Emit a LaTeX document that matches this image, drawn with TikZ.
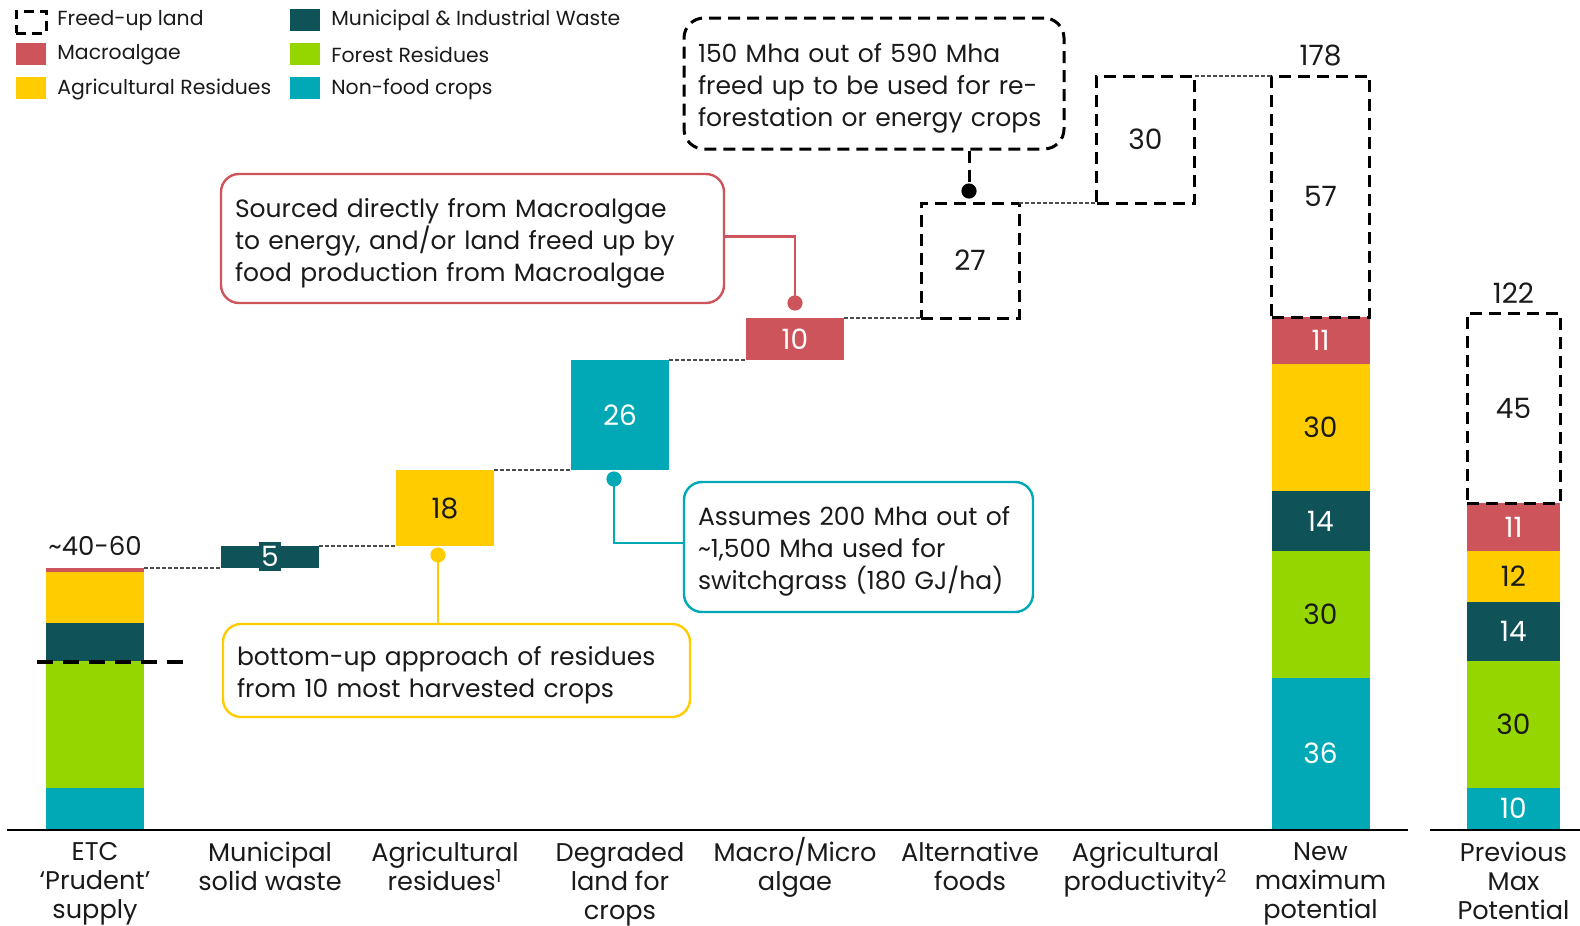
\documentclass[tikz,border=0pt]{standalone}
\usepackage{fontspec}
\setmainfont{Poppins}
\usetikzlibrary{calc,positioning}

\definecolor{algae}{RGB}{205,84,91}
\definecolor{agri}{RGB}{255,204,0}
\definecolor{waste}{RGB}{15,82,87}
\definecolor{forest}{RGB}{150,214,0}
\definecolor{crops}{RGB}{0,169,181}
\definecolor{ink}{RGB}{26,26,26}

\tikzset{
	seg/.style={inner sep=0pt, outer sep=0pt, minimum width=49pt, font=\fontsize{14}{16}\selectfont},
	segprev/.style={seg, minimum width=46.5pt},
	freed/.style={draw=black, line width=1.5pt, dash pattern=on 6pt off 3.5pt},
	link/.style={line width=0.6pt, color=black!70, dash pattern=on 2pt off 1pt},
	callout/.style={rounded corners=9pt, line width=1.2pt, align=left, inner xsep=7pt, inner ysep=0pt, text=ink, font=\fontsize{12.5}{16}\selectfont, execute at begin node={\rule{0pt}{14pt}}},
	pin/.style={line width=1.2pt},
	catlabel/.style={anchor=north, align=center, inner sep=0pt, text=ink, font=\fontsize{12.8}{14.5}\selectfont},
	total/.style={inner sep=0pt, text=ink, font=\fontsize{14}{16}\selectfont},
	legendtext/.style={anchor=west, inner sep=0pt, text=ink, font=\fontsize{10.2}{12}\selectfont},
	swatch/.style={inner sep=0pt, outer sep=0pt, minimum width=15pt, minimum height=11pt},
}

\begin{document}
\begin{tikzpicture}[x=0.5pt, y=-0.5pt]
		\useasboundingbox (0,0) rectangle (1580,926);
		
		%%%%% LEGEND %%%%%
		\node[swatch, draw=black, line width=1.5pt, dash pattern=on 5pt off 3pt] (swLand) at (31,22) {};
		\node[swatch, fill=algae] (swAlgae) at (31,54) {};
		\node[swatch, fill=agri] (swAgri) at (31,88) {};
		\node[swatch, fill=waste] (swWaste) at (305,20) {};
		\node[swatch, fill=forest] (swForest) at (305,54) {};
		\node[swatch, fill=crops] (swCrops) at (305,88) {};
		\node[legendtext] (kLand) at (57,21) {Freed-up land};
		\node[legendtext] (kAlgae) at (57,55) {Macroalgae};
		\node[legendtext] (kAgri) at (57,89) {Agricultural Residues};
		\node[legendtext] (kWaste) at (331,20) {Municipal \& Industrial Waste};
		\node[legendtext] (kForest) at (331,55) {Forest Residues};
		\node[legendtext] (kCrops) at (331,89) {Non-food crops};
		
		%%%%% ETC SUPPLY %%%%%
		\fill[crops] (46,788) rectangle (144,829);
		\fill[forest] (46,661) rectangle (144,788);
		\fill[waste] (46,623) rectangle (144,661);
		\fill[agri] (46,572) rectangle (144,623);
		\fill[algae] (46,568) rectangle (144,572);
		\coordinate (etcTop) at (144,568);
		\draw[line width=2pt, dash pattern=on 8pt off 5pt] (37,662) -- (187,662);
		\node[total, font=\fontsize{13}{16}\selectfont] (etcTotal) at (95,546) {\textasciitilde 40-60};
		
		%%%%% WATERFALL %%%%%
		\node[seg, fill=waste, minimum height=11pt] (mswBar) at (270,557) {};
		\node[seg, fill=waste, text=white, minimum width=11pt, minimum height=14.5pt] (mswVal) at (270,556.5) {5};
		\node[seg, fill=agri, text=ink, minimum height=38pt] (agriBar) at (445,508) {18};
		\node[seg, fill=crops, text=white, minimum height=55pt] (cropsBar) at (620,415) {26};
		\node[seg, fill=algae, text=white, minimum height=21pt] (algaeBar) at (795,339) {10};
		\node[seg, freed, text=ink, minimum height=57.5pt] (landBar) at (970,260.5) {27};
		\node[seg, freed, text=ink, minimum height=63.5pt] (prodBar) at (1145.5,139.5) {30};
		
		\draw[link] (etcTop) -- (mswBar.south west);
		\draw[link] (mswBar.north east) -- (agriBar.south west);
		\draw[link] (agriBar.north east) -- (cropsBar.south west);
		\draw[link] (cropsBar.north east) -- (algaeBar.south west);
		\draw[link] (algaeBar.north east) -- (landBar.south west);
		\draw[link] (landBar.north east) -- (prodBar.south west);
		
		%%%%% NEW MAXIMUM %%%%%
		\node[seg, text=white, fill=crops, minimum height=75.5pt] (newCrops) at (1320.5,753.5) {36};
		\node[seg, text=ink, fill=forest, minimum height=63.5pt] (newForest) at (1320.5,614.5) {30};
		\node[seg, text=white, fill=waste, minimum height=30pt] (newWaste) at (1320.5,521) {14};
		\node[seg, text=ink, fill=agri, minimum height=63.5pt] (newAgri) at (1320.5,427.5) {30};
		\node[seg, text=white, fill=algae, minimum height=23.5pt] (newAlgae) at (1320.5,340.5) {11};
		\node[seg, freed, text=ink, minimum height=120.5pt] (newLand) at (1320.5,196.5) {57};
		\node[total] (newTotal) at (1320.5,56) {178};
		\draw[link] (prodBar.north east) -- (newLand.north west);
		
		%%%%% PREVIOUS MAX %%%%%
		\node[segprev, text=white, fill=crops, minimum height=20.5pt] (oldCrops) at (1513.5,808.5) {10};
		\node[segprev, text=ink, fill=forest, minimum height=63.5pt] (oldForest) at (1513.5,724.5) {30};
		\node[segprev, text=white, fill=waste, minimum height=29.5pt] (oldWaste) at (1513.5,631.5) {14};
		\node[segprev, text=ink, fill=agri, minimum height=25.5pt] (oldAgri) at (1513.5,576.5) {12};
		\node[segprev, text=white, fill=algae, minimum height=24pt] (oldAlgae) at (1513.5,527) {11};
		\node[segprev, freed, text=ink, minimum height=95pt] (oldLand) at (1513.5,408) {45};
		\node[total] (oldTotal) at (1513.5,293) {122};
		
		%%%%% AXIS %%%%%
		\draw[line width=1pt] (7,830) -- (1408,830);
		\draw[line width=1pt] (1430,830) -- (1580,830);
		
		\node[catlabel] (cEtc) at (95,842) {ETC\\‘Prudent’\\supply};
		\node[catlabel] (cMsw) at (270,842) {Municipal\\solid waste};
		\node[catlabel] (cAgri) at (445,842) {Agricultural\\residues\textsuperscript{1}};
		\node[catlabel] (cCrops) at (620,842) {Degraded\\land for\\crops};
		\node[catlabel] (cAlgae) at (795,837) {Macro/Micro\\algae};
		\node[catlabel] (cFood) at (970,842) {Alternative\\foods};
		\node[catlabel] (cProd) at (1145.5,842) {Agricultural\\productivity\textsuperscript{2}};
		\node[catlabel] (cNew) at (1320.5,842) {New\\maximum\\potential};
		\node[catlabel] (cOld) at (1513.5,842) {Previous\\Max\\Potential};
		
		%%%%% CALLOUTS %%%%%
		\node[callout, draw=algae, minimum height=64.5pt, text width=237.5pt] (algaeNote) at (472.5,238.5) {Sourced directly from Macroalgae\\to energy, and/or land freed up by\\food production from Macroalgae};
		\coordinate (algaePin) at (795,303);
		\draw[pin, algae] ([yshift=1pt]algaeNote.east) -| (algaePin);
		\fill[algae] (algaePin) circle (3.8pt);
		
		\node[callout, draw=agri, minimum height=46.5pt, text width=219.5pt] (agriNote) at (456.5,670.5) {bottom-up approach of residues\\from 10 most harvested crops};
		\coordinate (agriPin) at (438,555);
		\draw[pin, agri] (agriPin) -- (agriPin |- agriNote.north);
		\fill[agri] (agriPin) circle (3.8pt);
		
		\node[callout, draw=crops, minimum height=65pt, text width=160.5pt] (cropsNote) at (858.5,547) {Assumes 200 Mha out of\\\textasciitilde 1,500 Mha used for\\switchgrass (180 GJ/ha)};
		\coordinate (cropsPin) at (614,479);
		\draw[pin, crops] (cropsPin) |- ([yshift=2pt]cropsNote.west);
		\fill[crops] (cropsPin) circle (3.8pt);
		
		\node[callout, draw=black, line width=1.5pt, dash pattern=on 6pt off 3.5pt, rounded corners=10pt, minimum height=65.5pt, text width=176pt] (landNote) at (874,83.5) {150 Mha out of 590 Mha\\freed up to be used for re-\\forestation or energy crops};
		\coordinate (landPin) at (969,191);
		\draw[line width=1.5pt, dash pattern=on 6pt off 3.5pt] (landPin |- landNote.south) -- (landPin);
		\fill[black] (landPin) circle (3.8pt);
		
\end{tikzpicture}
\end{document}
